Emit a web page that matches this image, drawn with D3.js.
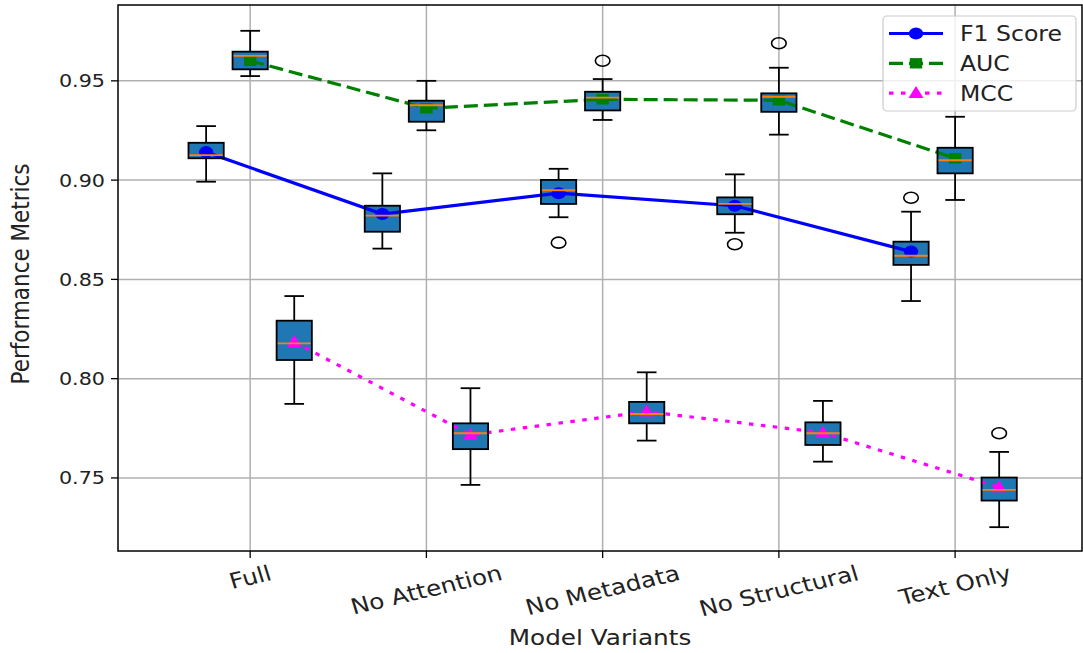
<!DOCTYPE html>
<html>
<head>
<meta charset="utf-8">
<script src="https://cdn.jsdelivr.net/npm/d3@7"></script>
<style>
  html, body { margin: 0; padding: 0; background: #fff; }
  svg { display: block; }
  text { font-family: "DejaVu Sans", sans-serif; fill: #222; }
</style>
</head>
<body>
<script>
// ---------------- data ----------------
const categories = ["Full", "No Attention", "No Metadata", "No Structural", "Text Only"];
const metricNames = ["F1 Score", "AUC", "MCC"];
const yTicks = [0.75, 0.80, 0.85, 0.90, 0.95];

// box stats per category: [whiskerLow, Q1, median, Q3, whiskerHigh]
const f1Box = [
  [0.8992, 0.9110, 0.9126, 0.9188, 0.9272],
  [0.8655, 0.8740, 0.8821, 0.8871, 0.9034],
  [0.8813, 0.8880, 0.8949, 0.9001, 0.9057],
  [0.8735, 0.8828, 0.8880, 0.8913, 0.9029],
  [0.8391, 0.8573, 0.8619, 0.8690, 0.8841]
];
const f1Mean = [0.9141, 0.8829, 0.8934, 0.8871, 0.8640];
const f1Outliers = [[], [], [0.8685], [0.8677], [0.8911]];

const aucBox = [
  [0.9524, 0.9558, 0.9626, 0.9647, 0.9752],
  [0.9251, 0.9294, 0.9377, 0.9400, 0.9500],
  [0.9303, 0.9351, 0.9415, 0.9445, 0.9509],
  [0.9229, 0.9344, 0.9420, 0.9437, 0.9566],
  [0.8900, 0.9034, 0.9100, 0.9163, 0.9319]
];
const aucMean = [0.9601, 0.9362, 0.9407, 0.9402, 0.9110];
const aucOutliers = [[], [], [0.9601], [0.9689], []];

const mccBox = [
  [0.7873, 0.8094, 0.8178, 0.8292, 0.8416],
  [0.7465, 0.7645, 0.7725, 0.7775, 0.7952],
  [0.7688, 0.7775, 0.7822, 0.7883, 0.8032],
  [0.7582, 0.7666, 0.7725, 0.7780, 0.7888],
  [0.7252, 0.7386, 0.7440, 0.7502, 0.7631]
];
const mccMean = [0.8185, 0.7717, 0.7834, 0.7728, 0.7453];
const mccOutliers = [[], [], [], [], [0.7725]];

// ---------------- layout ----------------
const W = 1083, H = 653;
const plot = { left: 118, right: 1082, top: 5, bottom: 551 };
const SX = 1.15; // horizontal text stretch of the reference image

const series = [
  { name: metricNames[0], box: f1Box, mean: f1Mean, out: f1Outliers, offset: -0.25, color: "#0000ff", dash: null, marker: "circle" },
  { name: metricNames[1], box: aucBox, mean: aucMean, out: aucOutliers, offset: 0, color: "#008000", dash: "14,6", marker: "square" },
  { name: metricNames[2], box: mccBox, mean: mccMean, out: mccOutliers, offset: 0.25, color: "#ff00ff", dash: "4.5,7.5", marker: "triangle" }
];

const x = d3.scaleLinear().domain([0.25, 5.72]).range([plot.left, plot.right]);
const y = d3.scaleLinear().domain([0.7132, 0.9882]).range([plot.bottom, plot.top]);
const boxW = x(1.2) - x(1.0);
const capW = boxW / 2;

const svg = d3.select("body").append("svg").attr("width", W).attr("height", H);

const defs = svg.append("defs");
defs.append("clipPath").attr("id", "clip").append("rect")
  .attr("x", plot.left).attr("y", plot.top)
  .attr("width", plot.right - plot.left).attr("height", plot.bottom - plot.top);

// grid
const grid = svg.append("g");
grid.selectAll("line.gy").data(yTicks).enter().append("line")
  .attr("x1", plot.left).attr("x2", plot.right)
  .attr("y1", d => y(d)).attr("y2", d => y(d))
  .attr("stroke", "#b0b0b0").attr("stroke-width", 1.5);
grid.selectAll("line.gx").data(categories).enter().append("line")
  .attr("x1", (d, i) => x(i + 1)).attr("x2", (d, i) => x(i + 1))
  .attr("y1", plot.top).attr("y2", plot.bottom)
  .attr("stroke", "#b0b0b0").attr("stroke-width", 1.5);

const gPlot = svg.append("g").attr("clip-path", "url(#clip)");

// box fills
series.forEach(s => {
  gPlot.append("g").selectAll("rect").data(s.box).enter().append("rect")
    .attr("x", (d, i) => x(i + 1 + s.offset) - boxW / 2)
    .attr("width", boxW)
    .attr("y", d => y(d[3]))
    .attr("height", d => y(d[1]) - y(d[3]))
    .attr("fill", "#1f77b4");
});

function markerPath(type, cx, cy) {
  if (type === "square") {
    const hw = 6.2, hh = 5.2;
    return `M${cx - hw},${cy - hh}H${cx + hw}V${cy + hh}H${cx - hw}Z`;
  }
  const hw = 7.5, hh = 6;
  return `M${cx},${cy - hh - 1}L${cx + hw},${cy + hh - 1}L${cx - hw},${cy + hh - 1}Z`;
}

function drawMarkers(g, s, pts) {
  pts.forEach(p => {
    if (s.marker === "circle") {
      g.append("ellipse").attr("cx", p[0]).attr("cy", p[1]).attr("rx", 7.2).attr("ry", 6)
        .attr("fill", s.color);
    } else {
      g.append("path").attr("d", markerPath(s.marker, p[0], p[1])).attr("fill", s.color);
    }
  });
}

// mean lines with markers
series.forEach(s => {
  const pts = s.mean.map((v, i) => [x(i + 1 + s.offset), y(v)]);
  gPlot.append("path")
    .attr("d", d3.line()(pts))
    .attr("fill", "none")
    .attr("stroke", s.color)
    .attr("stroke-width", 3.2)
    .attr("stroke-dasharray", s.dash);
  drawMarkers(gPlot, s, pts);
});

// box outlines, whiskers, caps, medians, outliers
series.forEach(s => {
  const g = gPlot.append("g");
  s.box.forEach((d, i) => {
    const cx = x(i + 1 + s.offset);
    g.append("line").attr("x1", cx).attr("x2", cx).attr("y1", y(d[0])).attr("y2", y(d[1]))
      .attr("stroke", "#000").attr("stroke-width", 1.8);
    g.append("line").attr("x1", cx).attr("x2", cx).attr("y1", y(d[3])).attr("y2", y(d[4]))
      .attr("stroke", "#000").attr("stroke-width", 1.8);
    [d[0], d[4]].forEach(v => {
      g.append("line").attr("x1", cx - capW / 2 - 1).attr("x2", cx + capW / 2 + 1)
        .attr("y1", y(v)).attr("y2", y(v))
        .attr("stroke", "#000").attr("stroke-width", 1.8);
    });
    g.append("rect").attr("x", cx - boxW / 2).attr("width", boxW)
      .attr("y", y(d[3])).attr("height", y(d[1]) - y(d[3]))
      .attr("fill", "none").attr("stroke", "#000").attr("stroke-width", 1.8);
    g.append("line").attr("x1", cx - boxW / 2 + 1).attr("x2", cx + boxW / 2 - 1)
      .attr("y1", y(d[2])).attr("y2", y(d[2]))
      .attr("stroke", "#ff7f0e").attr("stroke-width", 1.8);
    s.out[i].forEach(v => {
      g.append("ellipse").attr("cx", cx).attr("cy", y(v)).attr("rx", 7.3).attr("ry", 5.5)
        .attr("fill", "none").attr("stroke", "#000").attr("stroke-width", 1.6);
    });
  });
});

// frame
svg.append("rect")
  .attr("x", plot.left).attr("y", plot.top)
  .attr("width", plot.right - plot.left).attr("height", plot.bottom - plot.top)
  .attr("fill", "none").attr("stroke", "#000").attr("stroke-width", 1.5);

// stretched text helper
function stretchedText(g, str, px, py, size, anchor, rot, baseline) {
  return g.append("text")
    .attr("transform", `translate(${px},${py}) scale(${SX},1) rotate(${rot || 0})`)
    .attr("text-anchor", anchor)
    .attr("dominant-baseline", baseline || "auto")
    .style("font-size", size + "px")
    .text(str);
}

// y axis ticks
const yAxis = svg.append("g");
yTicks.forEach(t => {
  yAxis.append("line").attr("x1", plot.left - 7).attr("x2", plot.left)
    .attr("y1", y(t)).attr("y2", y(t)).attr("stroke", "#000").attr("stroke-width", 1.3);
  stretchedText(yAxis, d3.format(".2f")(t), plot.left - 13, y(t) + 6.5, 18, "end", 0);
});

// x axis ticks
const xAxis = svg.append("g");
const XT = 21.5;
categories.forEach((c, i) => {
  const px = x(i + 1);
  xAxis.append("line").attr("x1", px).attr("x2", px)
    .attr("y1", plot.bottom).attr("y2", plot.bottom + 7).attr("stroke", "#000").attr("stroke-width", 1.3);
  const t = stretchedText(xAxis, c, 0, 0, XT, "middle", -15, "central");
  const L = t.node().getComputedTextLength();
  const hgt = XT * 1.1;
  const a = 15 * Math.PI / 180;
  const bboxH = L * Math.sin(a) + hgt * Math.cos(a);
  const top = plot.bottom + 10;
  t.attr("transform", `translate(${px},${top + bboxH / 2}) scale(${SX},1) rotate(-15)`);
});

// axis labels
stretchedText(svg, "Model Variants", (plot.left + plot.right) / 2, 645, 21.5, "middle", 0);
stretchedText(svg, "Performance Metrics", 29, 274, 21.5, "middle", -90);

// legend
const lg = svg.append("g");
lg.append("rect").attr("x", 883).attr("y", 16).attr("width", 193).attr("height", 95)
  .attr("rx", 4).attr("fill", "#fff").attr("fill-opacity", 0.8)
  .attr("stroke", "#cccccc").attr("stroke-width", 1.2);
series.forEach((s, i) => {
  const ly = 33.5 + i * 29.8;
  lg.append("line").attr("x1", 889).attr("x2", 943).attr("y1", ly).attr("y2", ly)
    .attr("stroke", s.color).attr("stroke-width", 3.2).attr("stroke-dasharray", s.dash);
  drawMarkers(lg, s, [[916, ly]]);
  stretchedText(lg, s.name, 960, ly + 7.5, 20.5, "start", 0);
});
</script>
</body>
</html>
